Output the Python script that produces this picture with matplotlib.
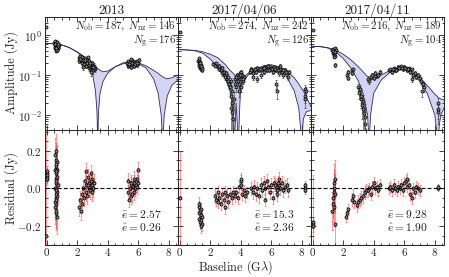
import matplotlib
matplotlib.use("Agg")
import matplotlib.pyplot as plt
from matplotlib.ticker import MultipleLocator, LogLocator, NullFormatter

plt.rcParams['font.family'] = ['cmr10', 'DejaVu Serif']
plt.rcParams['mathtext.fontset'] = 'cm'
plt.rcParams['axes.formatter.use_mathtext'] = True
plt.rcParams['axes.unicode_minus'] = True

titles = ["2013", "2017/04/06", "2017/04/11"]
n_ob = [187, 274, 216]
n_nz = [146, 242, 189]
n_g = [176, 126, 104]
e_bar = ["2.57", "15.3", "9.28"]
e_hat = ["0.26", "2.36", "1.90"]

# ---------------- model bands (upper / lower envelopes) ----------------
mx1 = [-0.1, 0.5, 1.0, 1.5, 2.0, 2.5, 2.8, 3.0, 3.2, 3.3, 3.35, 3.4, 3.5, 3.7, 4.0, 4.5, 5.0, 5.5,
       6.0, 6.5, 7.0, 7.3, 7.5, 7.6, 7.7, 7.9, 8.2, 8.6]
up1 = [0.62, 0.6, 0.56, 0.48, 0.38, 0.28, 0.22, 0.19, 0.16, 0.15, 0.145, 0.14, 0.13, 0.12, 0.125,
       0.16, 0.2, 0.21, 0.2, 0.17, 0.13, 0.11, 0.095, 0.09, 0.085, 0.08, 0.085, 0.1]
lo1 = [0.62, 0.6, 0.56, 0.48, 0.37, 0.25, 0.17, 0.11, 0.04, 0.012, 0.002, 0.012, 0.035, 0.07, 0.11,
       0.16, 0.19, 0.205, 0.19, 0.15, 0.08, 0.035, 0.01, 0.002, 0.01, 0.03, 0.055, 0.075]

mx2 = [-0.1, 0.5, 1.0, 1.5, 2.0, 2.5, 3.0, 3.3, 3.5, 3.6, 3.7, 3.85, 3.95, 4.0, 4.2, 4.5, 5.0, 5.5,
       6.0, 6.5, 7.0, 7.5, 7.8, 8.0, 8.1, 8.3, 8.6]
up2 = [0.43, 0.42, 0.41, 0.38, 0.33, 0.27, 0.18, 0.13, 0.11, 0.1, 0.09, 0.085, 0.083, 0.085, 0.09,
       0.11, 0.14, 0.17, 0.18, 0.16, 0.13, 0.085, 0.06, 0.045, 0.04, 0.028, 0.016]
lo2 = [0.43, 0.42, 0.4, 0.35, 0.25, 0.16, 0.08, 0.04, 0.015, 0.002, 0.02, 0.002, 0.02, 0.045, 0.07,
       0.1, 0.13, 0.16, 0.17, 0.14, 0.09, 0.04, 0.015, 0.002, 0.008, 0.012, 0.013]

mx3 = [-0.1, 0.5, 1.0, 1.5, 2.0, 2.5, 3.0, 3.3, 3.6, 3.7, 3.8, 4.0, 4.5, 5.0, 5.5, 5.75, 6.0, 6.5,
       7.0, 7.5, 8.0, 8.2, 8.3, 8.4, 8.6]
up3 = [0.52, 0.51, 0.48, 0.42, 0.33, 0.24, 0.16, 0.12, 0.09, 0.083, 0.078, 0.08, 0.1, 0.125, 0.145,
       0.15, 0.145, 0.12, 0.085, 0.055, 0.033, 0.028, 0.026, 0.025, 0.024]
lo3 = [0.52, 0.51, 0.47, 0.38, 0.26, 0.15, 0.07, 0.035, 0.01, 0.002, 0.01, 0.035, 0.075, 0.11, 0.14,
       0.145, 0.14, 0.11, 0.07, 0.035, 0.01, 0.002, 0.006, 0.01, 0.015]

# ---------------- amplitudes ----------------
ax1 = [-0.02, 0.52, 0.55, 0.57, 0.6, 0.6, 0.62, 0.64, 0.65, 0.67, 0.68, 0.7, 0.72, 0.74, 0.75, 0.78, 0.8,
       0.58, 0.66, 0.63, 0.7, 0.54, 0.61, 0.69, 0.73, 0.56, 0.64, 0.76,
       2.1, 2.15, 2.2, 2.25, 2.3, 2.35, 2.4, 2.45, 2.5, 2.55, 2.6, 2.65, 2.7, 2.75, 2.8, 2.85, 2.9, 2.95,
       3.0, 3.05, 3.1, 3.15, 2.72, 2.88, 3.0, 2.4, 2.2, 2.5, 2.78, 2.95, 3.1, 2.62, 2.83, 3.05,
       5.25, 5.3, 5.35, 5.4, 5.45, 5.5, 5.55, 5.6, 5.65, 5.7, 5.75, 5.8, 5.85, 5.9, 5.95, 6.0, 6.05, 5.5,
       5.62, 5.78, 5.92, 5.38]
ay1 = [1.6, 0.62, 0.55, 0.48, 0.66, 0.52, 0.45, 0.58, 0.5, 0.62, 0.43, 0.55, 0.48, 0.6, 0.52, 0.46, 0.56,
       0.7, 0.68, 0.4, 0.41, 0.5, 0.57, 0.49, 0.53, 0.6, 0.47, 0.58,
       0.27, 0.22, 0.3, 0.24, 0.2, 0.28, 0.23, 0.19, 0.26, 0.21, 0.17, 0.24, 0.19, 0.15, 0.22, 0.17, 0.14, 0.19,
       0.15, 0.13, 0.17, 0.14, 0.28, 0.12, 0.2, 0.16, 0.25, 0.23, 0.18, 0.16, 0.15, 0.2, 0.2, 0.16,
       0.2, 0.17, 0.22, 0.18, 0.21, 0.16, 0.19, 0.23, 0.18, 0.2, 0.17, 0.21, 0.19, 0.22, 0.18, 0.2, 0.24, 0.25,
       0.2, 0.19, 0.2, 0.19]
ae1 = [0.1] + [0.03] * 27 + [0.025] * 34 + [0.02] * 22

ax2 = [0.0, 1.22, 1.25, 1.28, 1.3, 1.33, 1.35, 1.38, 1.4, 1.43, 1.45, 1.48, 1.3, 1.36, 1.42,
       2.2, 2.3, 2.4, 2.5, 2.55, 2.6, 2.7, 2.75, 2.8, 2.9, 2.95, 3.0, 3.05, 3.1, 3.15, 3.2, 3.25, 3.3, 3.35,
       3.35, 3.4, 3.45, 3.5, 3.42, 3.55, 3.38,
       3.6, 3.65, 3.7, 3.75, 3.8, 3.85, 3.9, 3.95, 4.0, 4.05, 4.1, 4.15, 4.2, 3.9, 4.05, 3.72, 3.98, 4.12,
       4.6, 4.7, 4.8, 4.9, 5.0, 5.1, 5.2, 5.3, 5.4, 5.5, 5.6, 5.7, 5.8, 5.9, 6.0, 6.1, 6.2, 6.3, 6.4, 6.5,
       6.6, 6.7, 6.8, 6.9, 7.0, 7.1, 6.3, 6.4, 5.1, 4.8, 6.6, 7.15,
       5.25, 5.55, 5.85, 6.05, 6.25, 6.45, 6.75, 6.95, 4.65, 4.95,
       8.2, 8.22, 8.25, 8.18]
ay2 = [1.2, 0.22, 0.19, 0.24, 0.17, 0.21, 0.15, 0.18, 0.14, 0.16, 0.13, 0.15, 0.26, 0.2, 0.17,
       0.19, 0.17, 0.2, 0.16, 0.14, 0.17, 0.13, 0.15, 0.11, 0.12, 0.1, 0.09, 0.11, 0.08, 0.07, 0.09, 0.06,
       0.05, 0.07,
       0.03, 0.02, 0.012, 0.008, 0.04, 0.025, 0.015,
       0.06, 0.08, 0.05, 0.1, 0.07, 0.09, 0.06, 0.11, 0.08, 0.12, 0.1, 0.07, 0.09, 0.04, 0.05, 0.09, 0.1,
       0.08,
       0.12, 0.14, 0.11, 0.13, 0.12, 0.15, 0.13, 0.1, 0.14, 0.12, 0.16, 0.13, 0.17, 0.14, 0.15, 0.12, 0.16,
       0.13, 0.15, 0.11, 0.14, 0.12, 0.1, 0.13, 0.11, 0.09, 0.06, 0.04, 0.08, 0.09, 0.17, 0.12,
       0.14, 0.15, 0.13, 0.14, 0.14, 0.13, 0.13, 0.12, 0.13, 0.14,
       0.045, 0.03, 0.04, 0.025]
ae2 = [0.05] + [0.012] * 14 + [0.015] * 19 + [0.012] * 7 + [0.012] * 18 + [0.015] * 42 + [0.01] * 4

ax3 = [0.0, 1.3, 1.33, 1.35, 1.38, 1.4, 1.42, 1.45, 1.48, 1.5, 1.52, 1.4, 1.5, 1.36, 1.44,
       2.25, 2.3, 2.35, 2.55, 2.6, 2.65,
       3.0, 3.05, 3.1, 3.15, 3.2, 3.25, 3.3, 3.35, 3.4, 3.28, 3.45,
       3.6, 3.7, 3.8, 3.9, 4.0, 4.1, 4.2, 4.3, 4.4,
       5.0, 5.1, 5.2, 5.3, 5.4, 5.5, 5.6, 5.7, 5.8, 5.9, 6.0, 6.1, 6.2, 6.3, 6.4, 6.5, 6.6, 6.7, 6.8, 6.9,
       7.0, 7.1, 7.2, 7.3, 7.15, 6.5, 5.25, 5.45, 5.65, 5.85, 6.05, 6.25,
       8.2, 8.22, 8.18]
ay3 = [1.35, 0.42, 0.36, 0.45, 0.32, 0.4, 0.35, 0.47, 0.38, 0.3, 0.43, 0.28, 0.18, 0.4, 0.37,
       0.1, 0.12, 0.085, 0.13, 0.11, 0.14,
       0.05, 0.035, 0.045, 0.025, 0.03, 0.018, 0.014, 0.011, 0.009, 0.022, 0.006,
       0.08, 0.07, 0.09, 0.1, 0.085, 0.11, 0.095, 0.1, 0.12,
       0.13, 0.14, 0.12, 0.15, 0.13, 0.14, 0.16, 0.15, 0.17, 0.14, 0.16, 0.15, 0.13, 0.15, 0.12, 0.14,
       0.1, 0.11, 0.09, 0.1, 0.085, 0.07, 0.06, 0.05, 0.04, 0.08, 0.14, 0.13, 0.15, 0.15, 0.15, 0.14,
       0.02, 0.014, 0.012]
ae3 = [0.05] + [0.02] * 14 + [0.012] * 6 + [0.01] * 11 + [0.012] * 9 + [0.012] * 32 + [0.006] * 3

# ---------------- residuals ----------------
rx1 = [-0.02, 0.0, 0.02, 0.0, 0.03, 0.01,
       0.55, 0.6, 0.62, 0.58, 0.65, 0.6, 0.63, 0.57, 0.66, 0.6, 0.64, 0.58, 0.62, 0.67, 0.7, 0.7, 0.68,
       0.55, 0.72, 0.65, 0.6, 0.66, 0.63, 0.59, 0.61, 0.64, 0.6, 0.62,
       2.15, 2.2, 2.25, 2.3, 2.35, 2.4, 2.45, 2.5, 2.55, 2.6, 2.65, 2.7, 2.75, 2.8, 2.85, 2.9, 2.95, 3.0,
       3.05, 3.1, 2.6, 3.0, 2.8, 2.9, 2.7,
       5.3, 5.35, 5.4, 5.45, 5.5, 5.55, 5.6, 5.65, 5.7, 5.75, 5.8, 5.85, 5.9, 5.95, 6.0, 6.0, 5.7, 5.5]
ry1 = [-0.25, 0.06, 0.08, 0.09, 0.05, 0.07,
       0.18, 0.15, 0.12, 0.1, 0.08, 0.05, 0.03, 0.0, -0.02, -0.05, -0.08, -0.1, -0.13, -0.15, 0.1, -0.04,
       0.14, -0.07, 0.02, 0.2, -0.12, 0.06, -0.01, 0.13, 0.04, -0.06, 0.09, -0.03,
       -0.1, -0.06, -0.12, -0.03, -0.08, 0.0, -0.05, 0.04, -0.02, 0.02, -0.04, 0.06, 0.0, 0.03, -0.01,
       0.08, 0.02, 0.05, 0.0, 0.03, 0.09, -0.02, 0.01, 0.04, 0.02,
       0.04, -0.02, -0.06, 0.0, -0.04, 0.02, -0.03, 0.01, -0.02, 0.03, 0.0, 0.02, 0.05, 0.01, 0.03, 0.1,
       0.05, 0.03]
rs1 = [0.6] + [0.03] * 5 + [0.09] * 28 + [0.045] * 25 + [0.04] * 18

rx2 = [0.0,
       1.25, 1.28, 1.3, 1.33, 1.35, 1.38, 1.4, 1.42, 1.45, 1.48, 1.3, 1.4,
       2.3, 2.4, 2.5, 2.6, 2.7, 2.8, 2.9, 3.0, 3.1, 3.2, 3.3, 3.4, 3.5, 2.5, 3.0,
       3.6, 3.7, 3.8, 3.9, 4.0, 4.0, 4.05, 4.1, 4.2, 4.3, 4.4,
       4.7, 4.8, 4.9, 5.0, 5.1, 5.2, 5.3, 5.4, 5.5, 5.6, 5.7, 5.8, 5.9, 6.0, 6.1, 6.2, 6.3, 6.4, 6.5,
       6.6, 6.7, 6.8, 6.9, 7.0, 7.1, 5.6, 6.5, 6.25, 6.35, 6.45,
       8.2, 8.22, 8.18]
ry2 = [-0.05,
       -0.1, -0.13, -0.16, -0.12, -0.18, -0.14, -0.11, -0.17, -0.15, -0.19, -0.08, -0.2,
       -0.04, -0.06, -0.02, -0.05, -0.08, -0.03, -0.06, -0.1, -0.04, -0.07, -0.03, -0.05, -0.02, -0.07,
       -0.02,
       -0.04, -0.02, -0.05, 0.01, 0.04, 0.05, 0.02, -0.03, -0.01, -0.04, -0.02,
       0.0, -0.02, 0.01, -0.03, 0.0, -0.04, 0.02, -0.01, 0.03, 0.0, 0.04, 0.01, -0.02, 0.02, -0.05, 0.03,
       0.01, -0.03, 0.02, 0.0, 0.03, -0.01, 0.01, 0.02, -0.01, -0.06, 0.05, 0.02, -0.01, 0.03,
       0.0, 0.02, -0.01]
rs2 = [0.245] + [0.035] * 12 + [0.035] * 15 + [0.03] * 11 + [0.035] * 30 + [0.02] * 3

rx3 = [0.0, 0.02, 0.0,
       1.3, 1.32, 1.35, 1.38, 1.4, 1.42, 1.45, 1.48, 1.4, 1.5,
       2.2, 2.25, 2.3,
       2.6, 2.65, 2.7, 2.9, 3.0, 3.1, 3.2, 3.3, 3.4, 3.5,
       3.6, 3.7, 3.8, 3.9, 4.0, 4.1, 4.2, 4.3, 4.4,
       5.0, 5.1, 5.2, 5.3, 5.4, 5.5, 5.6, 5.7, 5.8, 5.9, 6.0, 6.1, 6.2, 6.3, 6.4, 6.5, 6.6, 6.7, 6.8,
       6.9, 7.0, 6.15,
       8.2, 8.22]
ry3 = [-0.19, -0.2, -0.18,
       -0.12, -0.08, -0.05, -0.02, 0.0, 0.03, 0.05, -0.03, -0.1, -0.19,
       -0.15, -0.13, -0.11,
       -0.06, -0.04, -0.07, -0.09, -0.07, -0.06, -0.05, -0.04, -0.02, -0.01,
       -0.01, 0.0, -0.03, 0.01, 0.03, 0.0, 0.01, -0.01, 0.02,
       0.0, 0.01, -0.01, 0.02, 0.0, -0.01, 0.01, 0.0, 0.02, -0.01, 0.03, 0.04, 0.01, 0.02, -0.03, -0.05,
       0.0, -0.02, 0.01, 0.0, -0.01, 0.05,
       0.0, 0.01]
rs3 = [0.26, 0.03, 0.03] + [0.1] * 10 + [0.03] * 3 + [0.035] * 10 + [0.03] * 9 + [0.03] * 22 + [0.015] * 2

bands = [(mx1, up1, lo1), (mx2, up2, lo2), (mx3, up3, lo3)]
amps = [(ax1, ay1, ae1), (ax2, ay2, ae2), (ax3, ay3, ae3)]
ress = [(rx1, ry1, rs1), (rx2, ry2, rs2), (rx3, ry3, rs3)]

fig = plt.figure(figsize=(4.49, 2.77), dpi=100)
gs = fig.add_gridspec(2, 3, left=45/449, right=444/449, top=1-17/277, bottom=1-245/277,
                      wspace=0, hspace=0, height_ratios=[113, 115])

band_face = '#d3d3f3'
band_edge = '#2b2b66'
txt = '#222222'
mk = dict(marker='o', ms=2.2, mfc='#8c8c8c', mec='black', mew=0.55, ls='none')

for j in range(3):
    axt = fig.add_subplot(gs[0, j])
    axb = fig.add_subplot(gs[1, j])
    mx, up, lo = bands[j]
    axt.fill_between(mx, lo, up, facecolor=band_face, edgecolor='none', zorder=1)
    axt.plot(mx, up, color=band_edge, lw=0.6, zorder=2)
    axt.plot(mx, lo, color=band_edge, lw=0.6, zorder=2)
    x, y, e = amps[j]
    axt.errorbar(x, y, yerr=e, ecolor='#444444', elinewidth=0.45, capsize=0.8, capthick=0.45,
                 zorder=3, **mk)
    axt.set_yscale('log')
    axt.set_ylim(4.2e-3, 2.8)
    axt.set_xlim(-0.1, 8.6)
    axt.set_title(titles[j], fontsize=9.5, color=txt, pad=2.5)
    axt.text(0.985, 0.975, r'$N_{\rm ob}=%d,\ N_{\rm nz}=%d$' % (n_ob[j], n_nz[j]),
             transform=axt.transAxes, ha='right', va='top', fontsize=7.8, color=txt)
    axt.text(0.985, 0.85, r'$N_{\rm g}=%d$' % n_g[j],
             transform=axt.transAxes, ha='right', va='top', fontsize=7.8, color=txt)

    x, y, s = ress[j]
    axb.errorbar(x, y, yerr=s, fmt='none', ecolor=(1, 0.15, 0.15, 0.6), elinewidth=0.55,
                 capsize=0.8, capthick=0.5, zorder=2)
    axb.errorbar(x, y, yerr=[0.008] * len(x), ecolor='#333333', elinewidth=0.45, capsize=0.6,
                 capthick=0.45, zorder=3, **mk)
    axb.axhline(0, color='black', lw=0.8, ls=(0, (3.5, 2)), zorder=4)
    axb.set_xlim(-0.1, 8.6)
    axb.set_ylim(-0.3, 0.31)
    axb.text(0.575, 0.27, r'$\bar{e}=%s$' % e_bar[j], transform=axb.transAxes,
             ha='left', va='center', fontsize=8.3, color=txt)
    axb.text(0.575, 0.15, r'$\hat{e}=%s$' % e_hat[j], transform=axb.transAxes,
             ha='left', va='center', fontsize=8.3, color=txt)

    for a in (axt, axb):
        a.xaxis.set_major_locator(MultipleLocator(2))
        a.xaxis.set_minor_locator(MultipleLocator(0.5))
        a.tick_params(which='both', direction='in', top=True, right=True, labelsize=8,
                      colors='#222222', width=0.6)
        a.tick_params(which='major', length=3.5)
        a.tick_params(which='minor', length=1.8)
        a.tick_params(axis='x', pad=1.0)
        a.tick_params(axis='y', pad=2.5)
        for sp in a.spines.values():
            sp.set_linewidth(0.7)
            sp.set_color('#222222')
    axt.yaxis.set_major_locator(LogLocator(base=10, numticks=10))
    axt.yaxis.set_minor_locator(LogLocator(base=10, subs=[2, 3, 4, 5, 6, 7, 8, 9], numticks=20))
    axt.yaxis.set_minor_formatter(NullFormatter())
    axt.tick_params(labelbottom=False)
    axt.tick_params(axis='y', labelsize=8.3)
    axb.yaxis.set_major_locator(MultipleLocator(0.2))
    axb.yaxis.set_minor_locator(MultipleLocator(0.05))
    if j > 0:
        axt.tick_params(labelleft=False)
        axb.tick_params(labelleft=False)
    else:
        axb.set_yticks([-0.2, 0.0, 0.2])
        axb.set_yticklabels([r'$-0.2$', r'$0.0$', r'$0.2$'])

fig.text(11/449, 1-73/277, 'Amplitude (Jy)', rotation=90, ha='center', va='center',
         fontsize=8.8, color=txt)
fig.text(11/449, 1-188/277, 'Residual (Jy)', rotation=90, ha='center', va='center',
         fontsize=8.8, color=txt)
fig.text(235/449, 1.5/277, r'Baseline (G$\lambda$)', ha='center', va='bottom',
         fontsize=8.8, color=txt)

fig.savefig('out.png', dpi=100)
